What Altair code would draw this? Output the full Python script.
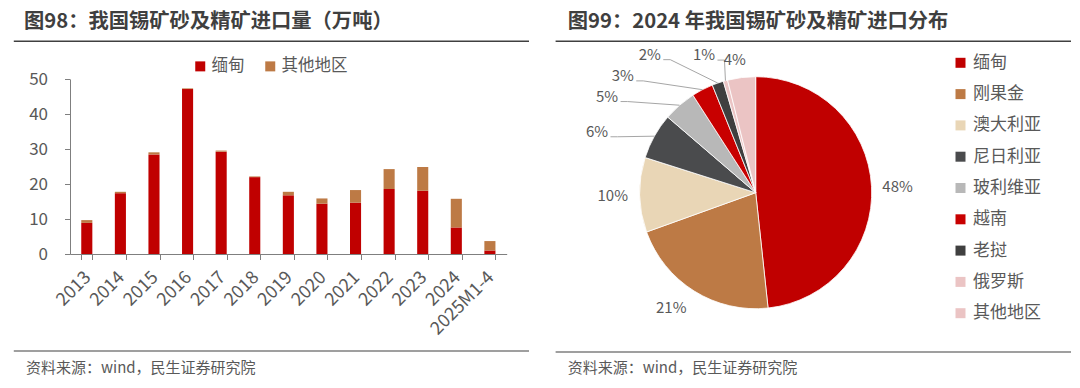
import math
import altair as alt
import pandas as pd

FONT = "Noto Sans CJK SC"
TXT = "#595959"
DARK = "#3F3F3F"

# ---------------- data ----------------
years = ["2013", "2014", "2015", "2016", "2017", "2018", "2019", "2020",
         "2021", "2022", "2023", "2024", "2025M1-4"]
myanmar = [8.9, 17.4, 28.5, 47.2, 29.3, 22.0, 16.8, 14.4, 14.7, 18.6, 18.1, 7.6, 1.0]
others = [0.8, 0.4, 0.6, 0.2, 0.3, 0.2, 1.0, 1.5, 3.6, 5.7, 6.8, 8.2, 2.7]
bar_series = ["缅甸", "其他地区"]
bar_colors = ["#C00000", "#BD7A45"]
y_ticks = [0, 10, 20, 30, 40, 50]

pie_regions = ["缅甸", "刚果金", "澳大利亚", "尼日利亚", "玻利维亚", "越南", "老挝", "俄罗斯", "其他地区"]
pie_share = [48.3, 21.2, 10.4, 6.4, 4.6, 3.0, 1.6, 0.6, 3.9]
pie_colors = ["#C00000", "#BD7A45", "#E9D6B6", "#4A4B4D", "#B8B8B8", "#C80000", "#3F3F3F", "#EBC4C4", "#EBC4C4"]

title_left = "图98：我国锡矿砂及精矿进口量（万吨）"
title_right = "图99：2024 年我国锡矿砂及精矿进口分布"
source_text = "资料来源：wind，民生证券研究院"

# ---------------- layout (styles / positions) ----------------
W, H = 1064, 372
CX, CY, R = 747.7, 184.7, 116
# label placement around the pie: (angle in degrees clockwise from top, radius px)
LABEL_POLAR = [(87.6, 142), (216.2, 143), (268.7, 143), (291, 170), (302.9, 177),
               (311.3, 177), (322.5, 174), (339.4, 147), (351, 134)]
LEADER_IDX = [3, 4, 5, 6, 7]
PIE_FS = 15

# ---------------- tables ----------------
bar_df = pd.DataFrame({
    "year": years * 2,
    "series": [bar_series[0]] * len(years) + [bar_series[1]] * len(years),
    "value": myanmar + others,
    "ord": [0] * len(years) + [1] * len(years),
})

pie_df = pd.DataFrame({"region": pie_regions, "share": pie_share, "ord": list(range(len(pie_regions)))})

total = sum(pie_share)
cum = 0.0
mids = []
for s in pie_share:
    mids.append((cum + s / 2) / total * 360.0)
    cum += s

lab_rows = []
for i, s in enumerate(pie_share):
    a, r = LABEL_POLAR[i]
    lx = CX + r * math.sin(math.radians(a))
    ly = CY - r * math.cos(math.radians(a))
    lab_rows.append({"lx": lx, "ly": ly, "txt": f"{round(s)}%"})
lab_df = pd.DataFrame(lab_rows)

line_rows = []
for i in LEADER_IDX:
    t = lab_rows[i]["txt"]
    hw = (len(t) - 1) * 0.55 * PIE_FS / 2 + 0.85 * PIE_FS / 2
    sx = lab_rows[i]["lx"] + hw + 3
    sy = lab_rows[i]["ly"] + 5
    ex = CX + R * math.sin(math.radians(mids[i]))
    ey = CY - R * math.cos(math.radians(mids[i]))
    line_rows += [
        {"g": i, "k": 0, "px": sx, "py": sy},
        {"g": i, "k": 1, "px": sx + 7, "py": sy},
        {"g": i, "k": 2, "px": ex, "py": ey},
    ]
line_df = pd.DataFrame(line_rows)

# ---------------- bar chart ----------------
bars = alt.Chart(bar_df).mark_bar().encode(
    x=alt.X("year:N", sort=years,
            scale=alt.Scale(range=[62, 498.7], paddingInner=0.67, paddingOuter=0.335),
            axis=alt.Axis(title=None, labelAngle=-45, labelAlign="right", labelBaseline="middle",
                          tickBand="extent", offset=-126,
                          labelFont=FONT, labelFontSize=18, labelColor=TXT, labelPadding=15,
                          labelOffset=1,
                          domainColor="#7F7F7F", tickColor="#7F7F7F", tickSize=5.5, grid=False)),
    y=alt.Y("value:Q", stack="zero",
            scale=alt.Scale(domain=[0, 50], range=[246, 71.3], nice=False),
            axis=alt.Axis(title=None, values=y_ticks, offset=-62, grid=False,
                          labelFont=FONT, labelFontSize=17, labelColor=TXT, labelPadding=17,
                          domainColor="#7F7F7F", tickColor="#7F7F7F", tickSize=5.5)),
    color=alt.Color("series:N", sort=bar_series,
                    scale=alt.Scale(domain=bar_series, range=bar_colors),
                    legend=alt.Legend(title=None, orient="none", direction="horizontal",
                                      legendX=184, legendY=50, symbolType="square", symbolSize=100,
                                      symbolStrokeWidth=0, labelFont=FONT, labelFontSize=16.5,
                                      labelColor=TXT, labelOffset=3, columnPadding=17)),
    order=alt.Order("ord:Q"),
)

# ---------------- pie chart ----------------
pie = alt.Chart(pie_df).mark_arc(radius=R, stroke="white", strokeWidth=0.8).encode(
    theta=alt.Theta("share:Q", stack=True),
    color=alt.Color("region:N", sort=pie_regions,
                    scale=alt.Scale(domain=pie_regions, range=pie_colors),
                    legend=alt.Legend(title=None, orient="none", direction="vertical",
                                      legendX=944, legendY=46.3, symbolType="square", symbolSize=100,
                                      symbolStrokeWidth=0, labelFont=FONT, labelFontSize=17,
                                      labelColor=TXT, labelOffset=4, rowPadding=13.3)),
    order=alt.Order("ord:Q"),
    x=alt.value(CX),
    y=alt.value(CY),
)

pie_labels = alt.Chart(lab_df).mark_text(font=FONT, fontSize=PIE_FS, color=TXT,
                                         align="center", baseline="middle").encode(
    x=alt.X("lx:Q", scale=None, axis=None),
    y=alt.Y("ly:Q", scale=None, axis=None),
    text="txt:N",
)

leaders = alt.Chart(line_df).mark_line(color="#A6A6A6", strokeWidth=1).encode(
    x=alt.X("px:Q", scale=None, axis=None),
    y=alt.Y("py:Q", scale=None, axis=None),
    detail="g:N",
    order="k:Q",
)

# ---------------- titles / frames ----------------
def text_layer(s, x, y, size, color, weight="normal"):
    return alt.Chart(pd.DataFrame({"t": [s]})).mark_text(
        font=FONT, fontSize=size, color=color, fontWeight=weight,
        align="left", baseline="middle").encode(
        text="t:N", x=alt.value(x), y=alt.value(y))

def hrule(x1, x2, y, w, color):
    return alt.Chart(pd.DataFrame({"a": [0]})).mark_rule(color=color, strokeWidth=w).encode(
        x=alt.value(x1), x2=alt.value(x2), y=alt.value(y))

decor = [
    text_layer(title_left, 16, 14, 20.3, DARK, "bold"),
    text_layer(title_right, 559.7, 14, 20.3, DARK, "bold"),
    hrule(5.8, 521, 33.3, 1.5, "#404040"),
    hrule(547.6, 1063, 33.3, 1.5, "#404040"),
    hrule(5.8, 521, 343, 1.2, "#404040"),
    hrule(547.6, 1063, 344, 1.2, "#404040"),
    text_layer(source_text, 18, 360, 15, TXT),
    text_layer(source_text, 559.7, 360, 15, TXT),
]

chart = alt.layer(bars, pie, leaders, pie_labels, *decor).resolve_scale(
    x="independent", y="independent", color="independent"
).properties(
    width=W, height=H, autosize=alt.AutoSizeParams(type="none"), padding=0,
    background="white",
).configure_view(stroke=None)

chart.save("out.html", embed_options={"renderer": "svg", "actions": False})
